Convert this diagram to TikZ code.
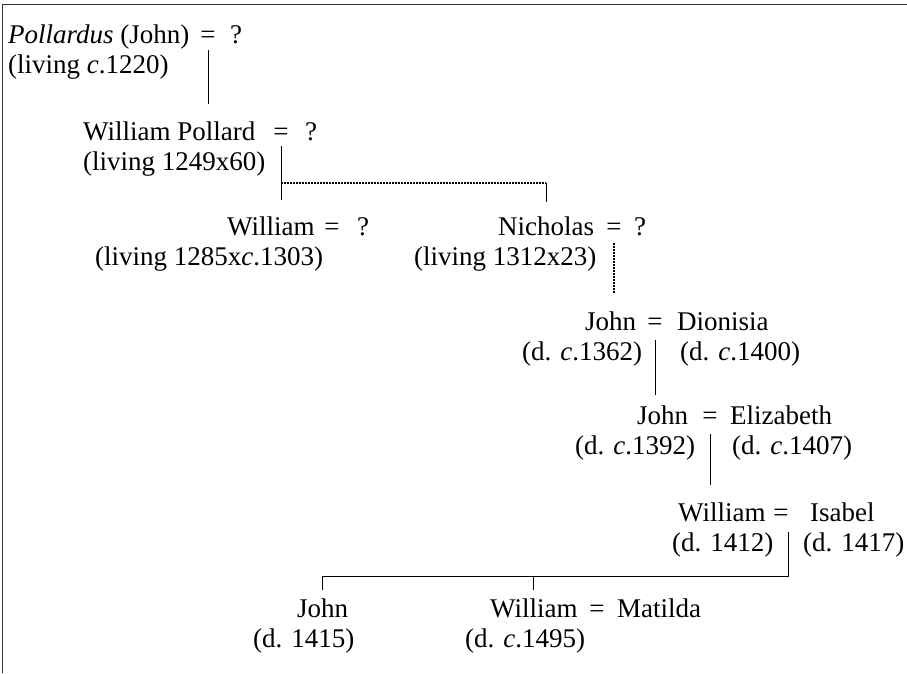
\documentclass[tikz,border=0pt]{standalone}
\usepackage{fontspec}
\setmainfont{Liberation Serif}
\usepackage{tikz}

\begin{document}
\begin{tikzpicture}[x=1pt,y=-1pt,
  font=\fontsize{27}{30}\selectfont,
  txt/.style={anchor=base west,inner sep=0pt},
  marr/.style={anchor=base,inner sep=0pt},
  kin/.style={line width=0.9pt},
  kindot/.style={line width=1.6pt,dash pattern=on 1.5pt off 1.5pt}]
\useasboundingbox (0,0) rectangle (907,673);
% frame
\draw[line width=1.2pt,black!80] (2.5,673) to (2.5,4.5) to (907,4.5);
% first generation
\node[txt] (pj) at (8,43) {\textit{Pollardus} (John)};
\node[marr] (eq1) at (208,43) {=};
\node[txt] (pjw) at (230,43) {?};
\node[txt] (pjd) at (8,73) {(living \textit{c}.1220)};
% second generation
\node[txt] (wp) at (83,140) {William Pollard};
\node[marr] (eq2) at (281,140) {=};
\node[txt] (wpw) at (305,140) {?};
\node[txt] (wpd) at (83,170) {(living 1249x60)};
% third generation
\node[txt] (w3) at (227,235) {William};
\node[marr] (eq3) at (332,235) {=};
\node[txt] (w3w) at (357,235) {?};
\node[txt] (w3d) at (95,265) {(living 1285x\textit{c}.1303)};
\node[txt] (ni) at (498,235) {Nicholas};
\node[marr] (eqn) at (614,235) {=};
\node[txt] (niw) at (634,235) {?};
\node[txt] (nid) at (414,265) {(living 1312x23)};
% John and Dionisia
\node[txt] (j4) at (585,330) {John};
\node[marr] (eq4) at (655,330) {=};
\node[txt] (di) at (677,330) {Dionisia};
\node[txt] (j4d) at (522,360) {(d. \textit{c}.1362)};
\node[txt] (did) at (680,360) {(d. \textit{c}.1400)};
% John and Elizabeth
\node[txt] (j5) at (637,424) {John};
\node[marr] (eq5) at (710,424) {=};
\node[txt] (el) at (730,424) {Elizabeth};
\node[txt] (j5d) at (575,454) {(d. \textit{c}.1392)};
\node[txt] (eld) at (732,454) {(d. \textit{c}.1407)};
% William and Isabel
\node[txt] (w6) at (678,521) {William};
\node[marr] (eq6) at (781,521) {=};
\node[txt] (is) at (810,521) {Isabel};
\node[txt] (w6d) at (672,551) {(d. 1412)};
\node[txt] (isd) at (803,551) {(d. 1417)};
% last generation
\node[txt] (j7) at (297,617) {John};
\node[txt] (j7d) at (253,647) {(d. 1415)};
\node[txt] (w7) at (490,617) {William};
\node[marr] (eq7) at (597,617) {=};
\node[txt] (ma) at (617,617) {Matilda};
\node[txt] (w7d) at (465,647) {(d. \textit{c}.1495)};
% descent lines
\draw[kin] ([yshift=-7pt]eq1.base) to ([yshift=36pt]eq1.base |- wp.base);
\draw[kin] ([yshift=-6pt]eq2.base) to ([yshift=35pt]eq2.base |- w3.base);
\draw[kindot] ([yshift=52pt]eq2.base |- ni.base) to ([yshift=52pt]ni.base);
\draw[kin] ([yshift=52pt]ni.base) to ([yshift=33pt]ni.base);
\draw[kindot] ([yshift=-8pt]eqn.base) to ([yshift=37pt]eqn.base |- j4.base);
\draw[kin] ([yshift=-10pt]eq4.base) to ([yshift=29pt]eq4.base |- j5.base);
\draw[kin] ([yshift=-10pt]eq5.base) to ([yshift=36pt]eq5.base |- w6.base);
\draw[kin] ([yshift=-11pt]eq6.base east) to ([yshift=41pt]eq6.east |- j7.base)
  to ([yshift=41pt]j7.base) to ([yshift=27pt]j7.base);
\draw[kin] ([yshift=41pt]w7.base) to ([yshift=27pt]w7.base);
\end{tikzpicture}
\end{document}
